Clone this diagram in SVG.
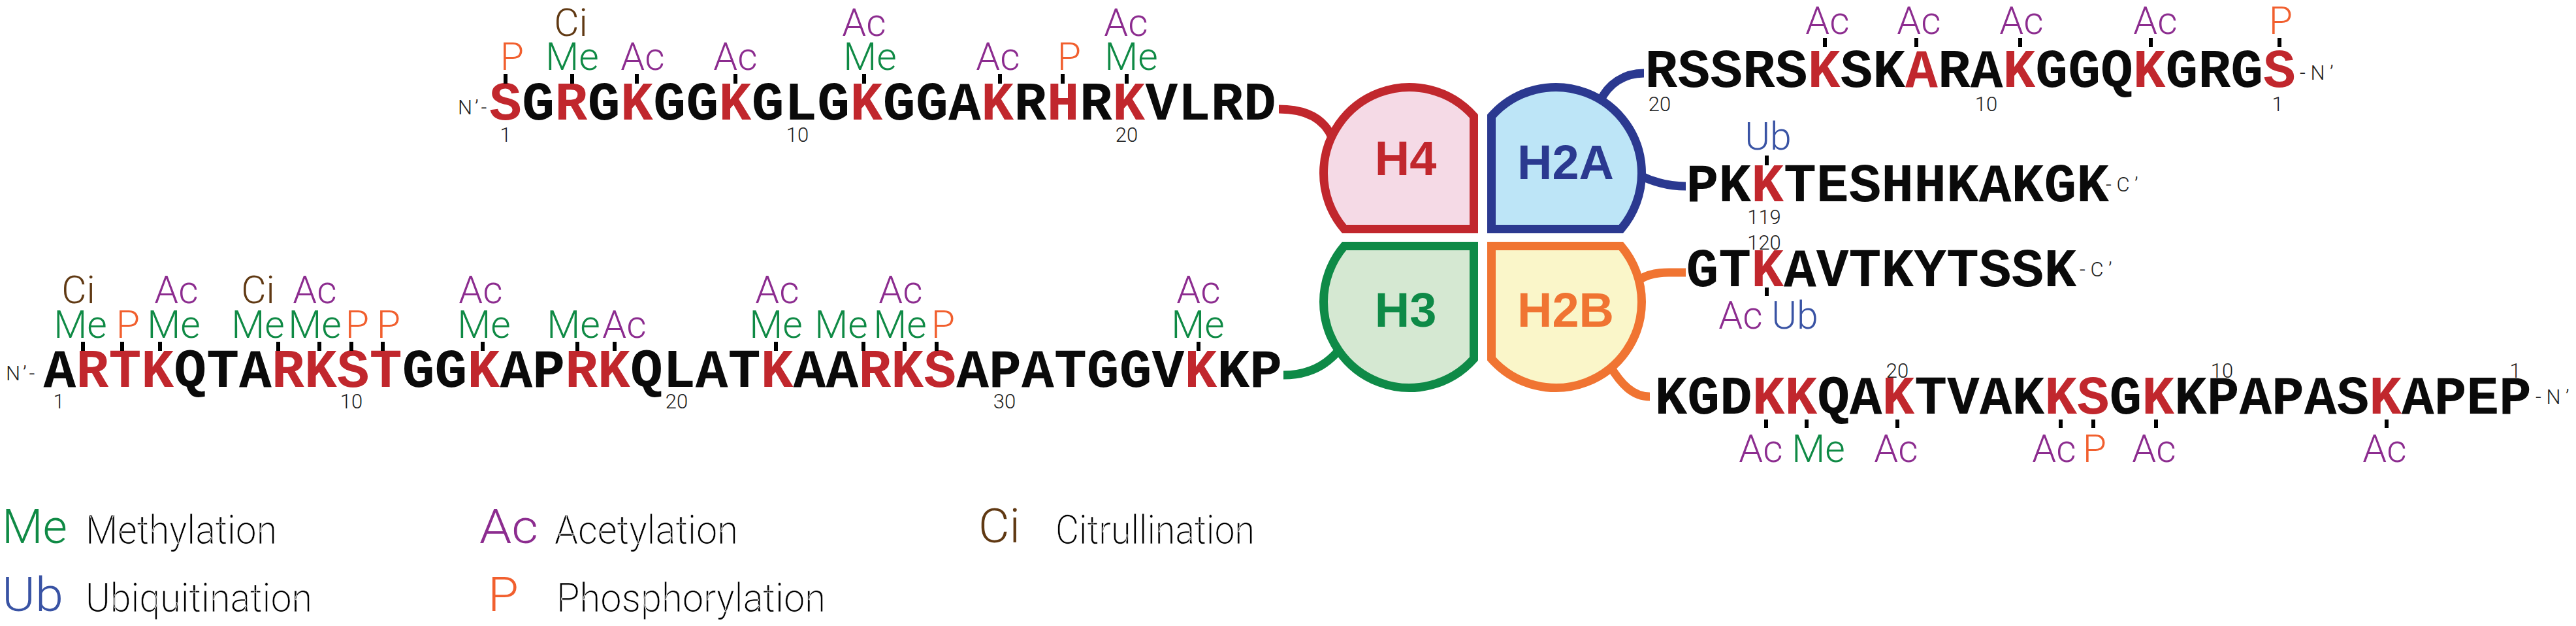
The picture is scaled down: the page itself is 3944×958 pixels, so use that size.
<svg xmlns="http://www.w3.org/2000/svg" width="3944" height="958" viewBox="0 0 3944 958">
<style>
.seq{font-family:"Liberation Mono","Courier New",monospace;font-weight:bold;font-size:83px;fill:#0a0a0a}
.r{fill:#C1272D}
.lbl{font-family:Roboto,"Liberation Sans",Arial,sans-serif;font-weight:300;font-size:59px;text-anchor:middle}
.me{fill:#0F8A45}.ac{fill:#8C2C8F}.p{fill:#F15F2E}.ci{fill:#603913}.ub{fill:#3953A4}
.num{font-family:Roboto,"Liberation Sans",Arial,sans-serif;font-weight:300;font-size:31px;text-anchor:middle;fill:#222}
.term{font-family:Roboto,"Liberation Sans",Arial,sans-serif;font-weight:300;font-size:31px;fill:#222}
.tick{stroke:#000;stroke-width:6;fill:none}
.leg{font-family:Roboto,"Liberation Sans",Arial,sans-serif;font-weight:300;font-size:73px}
.legt{font-family:Roboto,"Liberation Sans",Arial,sans-serif;font-weight:300;font-size:62px;fill:#000;stroke:#fff;stroke-width:0.7px}
.hl{font-family:"Liberation Sans",Arial,sans-serif;font-weight:bold;font-size:74px;text-anchor:middle}
.conn{fill:none;stroke-width:13}
.shape{stroke-width:13;stroke-linejoin:miter}
</style>
<rect width="3944" height="958" fill="#fff"/>
<g id="connectors">
<path class="conn" stroke="#C1272D" d="M1958,167 C2000,167 2028,182 2040,212"/>
<path class="conn" stroke="#2B3990" d="M2517,112 C2487,112 2462,128 2450,155"/>
<path class="conn" stroke="#2B3990" d="M2510,268 C2530,278 2553,285 2581,285"/>
<path class="conn" stroke="#0E8A47" d="M1965,574 C2000,574 2027,562 2048,538"/>
<path class="conn" stroke="#F07432" d="M2510,428 C2522,420 2535,417 2555,417 L2581,417"/>
<path class="conn" stroke="#F07432" d="M2465,560 C2482,588 2500,607 2526,607"/>
</g>
<g id="H4">
<path class="shape" fill="#F5DAE6" stroke="#C1272D" d="M2256.5,177.9 L2256.5,350.5 L2058.1,350.5 A131.5,131.5 0 0 1 2026.5,265 A131.5,131.5 0 0 1 2256.5,177.9 Z"/>
<text class="hl" x="2152" y="268" fill="#C1272D">H4</text>
</g>
<g id="H2A">
<path class="shape" fill="#BDE5F7" stroke="#2B3990" d="M2283.5,177.9 L2283.5,350.5 L2481.9,350.5 A131.5,131.5 0 0 0 2513.5,265 A131.5,131.5 0 0 0 2283.5,177.9 Z"/>
<text class="hl" x="2397" y="274" fill="#2B3990">H2A</text>
</g>
<g id="H3">
<path class="shape" fill="#D5E8D2" stroke="#0E8A47" d="M2256.5,549.1 L2256.5,376.5 L2058.1,376.5 A131.5,131.5 0 0 0 2026.5,462 A131.5,131.5 0 0 0 2256.5,549.1 Z"/>
<text class="hl" x="2152" y="500" fill="#0E8A47">H3</text>
</g>
<g id="H2B">
<path class="shape" fill="#FAF6C9" stroke="#F07432" d="M2283.5,549.1 L2283.5,376.5 L2481.9,376.5 A131.5,131.5 0 0 1 2513.5,462 A131.5,131.5 0 0 1 2283.5,549.1 Z"/>
<text class="hl" x="2397" y="500" fill="#F07432">H2B</text>
</g>
<g id="H4-tail">
<text class="term" x="701" y="175" style="letter-spacing:4px">N’-</text>
<text class="seq" x="749.1" y="183" style="letter-spacing:0.4px"><tspan class="r">S</tspan>G<tspan class="r">R</tspan>G<tspan class="r">K</tspan>GG<tspan class="r">K</tspan>GLG<tspan class="r">K</tspan>GGA<tspan class="r">K</tspan>R<tspan class="r">H</tspan>R<tspan class="r">K</tspan>VLRD</text>
<path class="tick" d="M774,113V128M876,113V128M975,113V128M1126,113V128M1323,113V128M1531,113V128M1627,113V128M1725,113V128"/>
<text class="lbl p" x="784" y="107">P</text>
<text class="lbl me" x="876" y="107">Me</text>
<text class="lbl ac" x="984" y="107">Ac</text>
<text class="lbl ac" x="1126" y="107">Ac</text>
<text class="lbl me" x="1332" y="107">Me</text>
<text class="lbl ac" x="1528" y="107">Ac</text>
<text class="lbl p" x="1637" y="107">P</text>
<text class="lbl me" x="1732" y="107">Me</text>
<text class="lbl ci" x="874" y="55">Ci</text>
<text class="lbl ac" x="1323" y="55">Ac</text>
<text class="lbl ac" x="1724" y="55">Ac</text>
<text class="num" x="774" y="217">1</text>
<text class="num" x="1221" y="217">10</text>
<text class="num" x="1725" y="217">20</text>
</g>
<g id="H2A-N-tail">
<text class="seq" x="2518.6" y="133">RSSRS<tspan class="r">K</tspan>SK<tspan class="r">A</tspan>RA<tspan class="r">K</tspan>GGQ<tspan class="r">K</tspan>GRG<tspan class="r">S</tspan></text>
<text class="term" x="3521" y="122">- N ’</text>
<path class="tick" d="M2794,58V72M2934,58V72M3093,58V72M3293,58V72M3490,58V72"/>
<text class="lbl ac" x="2798" y="52">Ac</text>
<text class="lbl ac" x="2938" y="52">Ac</text>
<text class="lbl ac" x="3095" y="52">Ac</text>
<text class="lbl ac" x="3300" y="52">Ac</text>
<text class="lbl p" x="3492" y="52">P</text>
<text class="num" x="2541" y="170">20</text>
<text class="num" x="3041" y="170">10</text>
<text class="num" x="3487" y="170">1</text>
</g>
<g id="H2A-C-tail">
<text class="seq" x="2581.5" y="308">PK<tspan class="r">K</tspan>TESHHKAKGK</text>
<text class="term" x="3224" y="293">- C ’</text>
<path class="tick" d="M2705,238V253"/>
<text class="lbl ub" x="2707" y="229">Ub</text>
<text class="num" x="2701" y="343">119</text>
</g>
<g id="H2B-C-tail">
<text class="seq" x="2581.5" y="438">GT<tspan class="r">K</tspan>AVTKYTSSK</text>
<text class="term" x="3184" y="423">- C ’</text>
<path class="tick" d="M2705,440V453"/>
<text class="lbl ac" x="2665" y="503">Ac</text>
<text class="lbl ub" x="2748" y="503">Ub</text>
<text class="num" x="2701" y="382">120</text>
</g>
<g id="H2B-N-tail">
<text class="seq" x="2533.6" y="633" style="letter-spacing:-0.1px">KGD<tspan class="r">KK</tspan>QA<tspan class="r">K</tspan>TVAK<tspan class="r">KS</tspan>G<tspan class="r">K</tspan>KPAPAS<tspan class="r">K</tspan>APEP</text>
<text class="term" x="3882" y="618">- N ’</text>
<path class="tick" d="M2704,642V655M2766,642V655M2905,642V655M3155,642V655M3205,642V655M3301,642V655M3654,642V655"/>
<text class="lbl ac" x="2696" y="707">Ac</text>
<text class="lbl me" x="2784" y="707">Me</text>
<text class="lbl ac" x="2903" y="707">Ac</text>
<text class="lbl ac" x="3145" y="707">Ac</text>
<text class="lbl p" x="3207" y="707">P</text>
<text class="lbl ac" x="3298" y="707">Ac</text>
<text class="lbl ac" x="3651" y="707">Ac</text>
<text class="num" x="2905" y="578">20</text>
<text class="num" x="3402" y="578">10</text>
<text class="num" x="3851" y="578">1</text>
</g>
<g id="H3-tail">
<text class="term" x="9" y="582" style="letter-spacing:4px">N’-</text>
<text class="seq" x="66.6" y="592" style="letter-spacing:0.1px">A<tspan class="r">RTK</tspan>QTA<tspan class="r">RKST</tspan>GG<tspan class="r">K</tspan>AP<tspan class="r">RK</tspan>QLAT<tspan class="r">K</tspan>AA<tspan class="r">RKS</tspan>APATGGV<tspan class="r">K</tspan>KP</text>
<path class="tick" d="M127,523V537M187,523V537M245,523V537M426,523V537M489,523V537M538,523V537M586,523V537M739,523V537M884,523V537M941,523V537M1188,523V537M1322,523V537M1385,523V537M1434,523V537M1835,523V537"/>
<text class="lbl me" x="123" y="517">Me</text>
<text class="lbl p" x="196" y="517">P</text>
<text class="lbl me" x="266" y="517">Me</text>
<text class="lbl me" x="395" y="517">Me</text>
<text class="lbl me" x="482" y="517">Me</text>
<text class="lbl p" x="547" y="517">P</text>
<text class="lbl p" x="595" y="517">P</text>
<text class="lbl me" x="741" y="517">Me</text>
<text class="lbl me" x="878" y="517">Me</text>
<text class="lbl ac" x="956" y="517">Ac</text>
<text class="lbl me" x="1188" y="517">Me</text>
<text class="lbl me" x="1288" y="517">Me</text>
<text class="lbl me" x="1378" y="517">Me</text>
<text class="lbl p" x="1444" y="517">P</text>
<text class="lbl me" x="1834" y="517">Me</text>
<text class="lbl ci" x="120" y="464">Ci</text>
<text class="lbl ac" x="270" y="464">Ac</text>
<text class="lbl ci" x="395" y="464">Ci</text>
<text class="lbl ac" x="482" y="464">Ac</text>
<text class="lbl ac" x="736" y="464">Ac</text>
<text class="lbl ac" x="1190" y="464">Ac</text>
<text class="lbl ac" x="1379" y="464">Ac</text>
<text class="lbl ac" x="1835" y="464">Ac</text>
<text class="num" x="90" y="625">1</text>
<text class="num" x="538" y="625">10</text>
<text class="num" x="1036" y="625">20</text>
<text class="num" x="1538" y="625">30</text>
</g>
<g id="legend">
<text class="leg me" x="3" y="831" textLength="100" lengthAdjust="spacingAndGlyphs">Me</text>
<text class="legt" x="131" y="832" textLength="293" lengthAdjust="spacingAndGlyphs">Methylation</text>
<text class="leg ub" x="3" y="935" textLength="94" lengthAdjust="spacingAndGlyphs">Ub</text>
<text class="legt" x="131" y="936" textLength="347" lengthAdjust="spacingAndGlyphs">Ubiquitination</text>
<text class="leg ac" x="734" y="831" textLength="90" lengthAdjust="spacingAndGlyphs">Ac</text>
<text class="legt" x="849" y="832" textLength="281" lengthAdjust="spacingAndGlyphs">Acetylation</text>
<text class="leg p" x="747" y="935" textLength="47" lengthAdjust="spacingAndGlyphs">P</text>
<text class="legt" x="852" y="936" textLength="412" lengthAdjust="spacingAndGlyphs">Phosphorylation</text>
<text class="leg ci" x="1498" y="830" textLength="64" lengthAdjust="spacingAndGlyphs">Ci</text>
<text class="legt" x="1616" y="832" textLength="305" lengthAdjust="spacingAndGlyphs">Citrullination</text>
</g>
</svg>
